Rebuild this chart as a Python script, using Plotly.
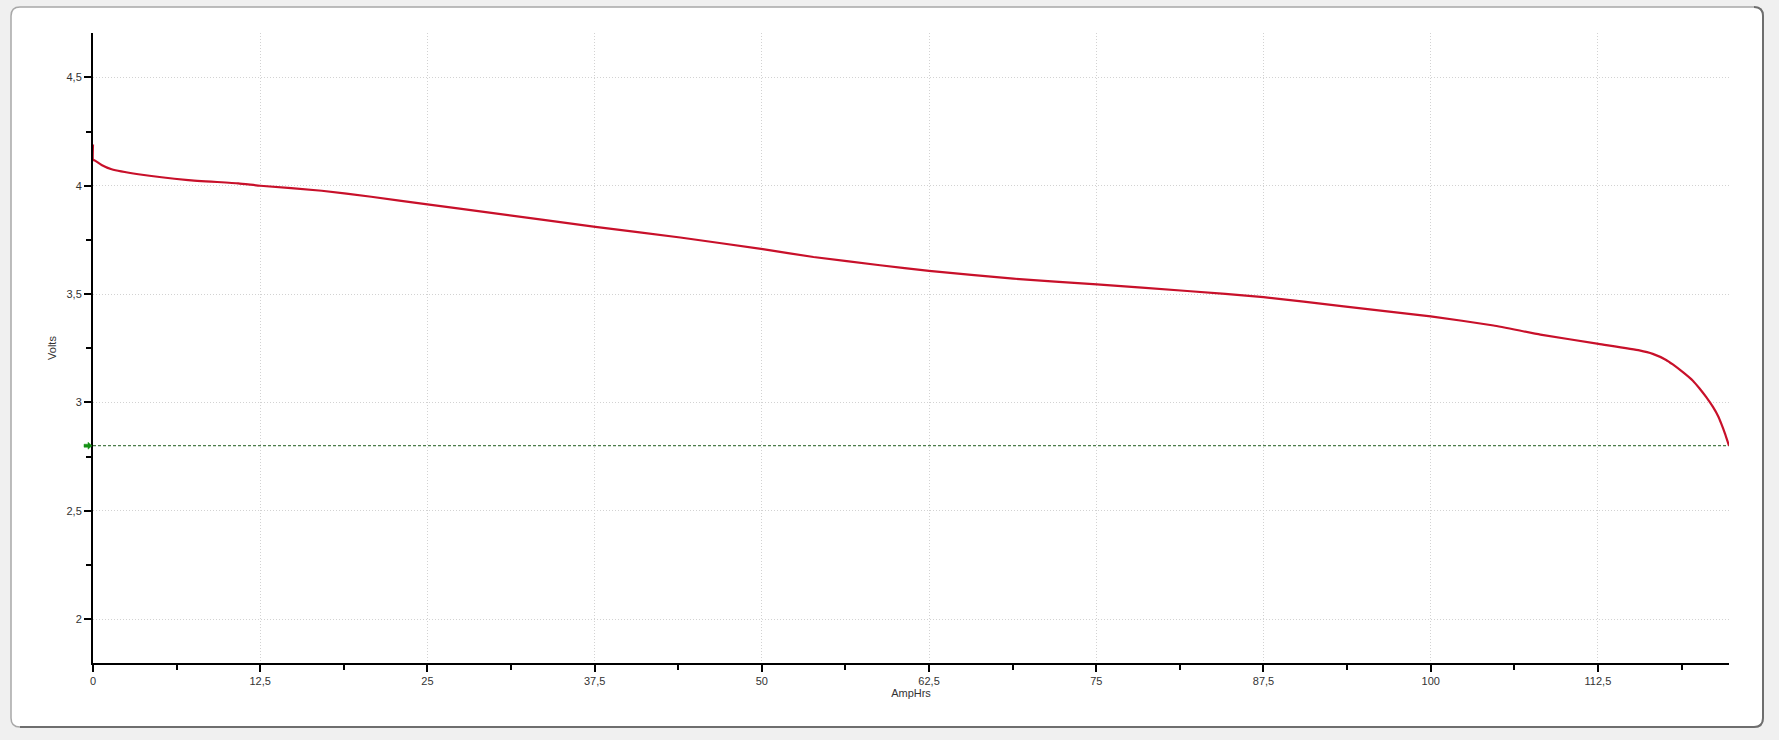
import plotly.graph_objects as go

# ---- data ----
amp_hrs = [0, 0, 0.15, 0.64, 1.39, 3.39, 7.12, 10.86, 12.5, 17.1, 20.8, 25.0, 29.5,
           37.56, 43.9, 50.07, 53.86, 58.84, 62.5, 68.8, 75.04, 81.8, 87.5, 93.5,
           100.0, 104.7, 108.2, 112.55, 115.6, 116.6, 117.6, 118.1, 118.9, 119.6,
           120.1, 120.6, 121.1, 121.5, 121.7, 122.0, 122.3]
volts = [4.19, 4.12, 4.116, 4.096, 4.076, 4.053, 4.026, 4.011, 4.0, 3.977, 3.949, 3.914, 3.877,
         3.810, 3.761, 3.707, 3.671, 3.633, 3.607, 3.571, 3.545, 3.514, 3.486, 3.443,
         3.397, 3.355, 3.313, 3.270, 3.240, 3.224, 3.196, 3.175, 3.137, 3.100,
         3.064, 3.024, 2.979, 2.935, 2.905, 2.856, 2.80]

cutoff_x = [0, 122.3]
cutoff_v = [2.8, 2.8]

x_ticks = [0, 12.5, 25, 37.5, 50, 62.5, 75, 87.5, 100, 112.5]
y_ticks = [2, 2.5, 3, 3.5, 4, 4.5]
y_range = [1.797, 4.705]

W, H = 1779, 740
ML, MR, MT, MB = 93, 50, 33, 77
PW, PH = W - ML - MR, H - MT - MB

def px(x):
    return (x - ML) / PW

def py(y):
    return (H - MB - y) / PH

fig = go.Figure()

fig.add_trace(go.Scatter(x=cutoff_x, y=cutoff_v, mode="lines",
                         line=dict(color="#1d5c1d", width=1, dash="3px,2px"),
                         showlegend=False, hoverinfo="skip"))
fig.add_trace(go.Scatter(x=amp_hrs, y=volts, mode="lines",
                         line=dict(color="#c8102a", width=2.2, shape="spline", smoothing=0.4),
                         showlegend=False, name="Volts"))

# cutoff marker arrow (left of y axis), placed at the cutoff value via the y scale
cy = (cutoff_v[0] - y_range[0]) / (y_range[1] - y_range[0])
def dy(p):
    return p / PH
def dx(p):
    return p / PW
arrow = (f"M {dx(-9)} {cy + dy(1.5)} L {dx(-5)} {cy + dy(1.5)} L {dx(-5)} {cy + dy(3.5)} "
         f"L {dx(-1)} {cy} L {dx(-5)} {cy - dy(3.5)} L {dx(-5)} {cy - dy(1.5)} "
         f"L {dx(-9)} {cy - dy(1.5)} Z")

# panel (rounded rectangle)
L, T, R, B, r = 11, 7, 1763, 727, 9
def rr_path(L, T, R, B, r):
    return (f"M {px(L + r)} {py(T)} L {px(R - r)} {py(T)} Q {px(R)} {py(T)} {px(R)} {py(T + r)} "
            f"L {px(R)} {py(B - r)} Q {px(R)} {py(B)} {px(R - r)} {py(B)} "
            f"L {px(L + r)} {py(B)} Q {px(L)} {py(B)} {px(L)} {py(B - r)} "
            f"L {px(L)} {py(T + r)} Q {px(L)} {py(T)} {px(L + r)} {py(T)} Z")
shadow = (f"M {px(R - r)} {py(T)} Q {px(R)} {py(T)} {px(R)} {py(T + r)} "
          f"L {px(R)} {py(B - r)} Q {px(R)} {py(B)} {px(R - r)} {py(B)} L {px(L + r)} {py(B)}")

fig.update_layout(
    width=W, height=H,
    margin=dict(l=ML, r=MR, t=MT, b=MB, pad=0),
    paper_bgcolor="#f0f0f0",
    plot_bgcolor="rgba(0,0,0,0)",
    separators=", ",
    font=dict(family="Liberation Sans, Arial, sans-serif", size=11, color="#333333"),
    shapes=[
        dict(type="path", xref="paper", yref="paper", path=rr_path(L, T, R, B, r),
             fillcolor="white", line=dict(color="#a8a8a8", width=1.5), layer="below"),
        dict(type="path", xref="paper", yref="paper", path=shadow,
             line=dict(color="#6e6e6e", width=2), layer="below"),
        dict(type="path", xref="paper", yref="paper", path=arrow,
             fillcolor="#149114", line=dict(color="#149114", width=0.5), layer="above"),
    ],
    xaxis=dict(
        range=[0, 122.3], tickvals=x_ticks, ticktext=[f"{v:g}".replace(".", ",") for v in x_ticks],
        showline=True, linecolor="black", linewidth=2,
        ticks="outside", ticklen=7, tickwidth=2, tickcolor="black",
        showgrid=True, gridcolor="#d2d2d2", gridwidth=1, griddash="1px,2px",
        zeroline=False,
        minor=dict(dtick=6.25, tick0=0, ticks="outside", ticklen=5, tickwidth=2,
                   tickcolor="black", showgrid=False),
        title=dict(text="AmpHrs", standoff=2, font=dict(size=11)),
    ),
    yaxis=dict(
        range=y_range, tickvals=y_ticks, ticktext=[f"{v:g}".replace(".", ",") for v in y_ticks],
        showline=True, linecolor="black", linewidth=2,
        ticks="outside", ticklen=7, tickwidth=2, tickcolor="black",
        showgrid=True, gridcolor="#d2d2d2", gridwidth=1, griddash="1px,2px",
        zeroline=False,
        minor=dict(dtick=0.25, tick0=0, ticks="outside", ticklen=5, tickwidth=2,
                   tickcolor="black", showgrid=False),
        title=dict(text="Volts", standoff=8, font=dict(size=11)),
    ),
)

fig.write_html("out.html", config={"displayModeBar": False},
               post_script="document.body.style.margin='0';document.body.style.overflow='hidden';")
